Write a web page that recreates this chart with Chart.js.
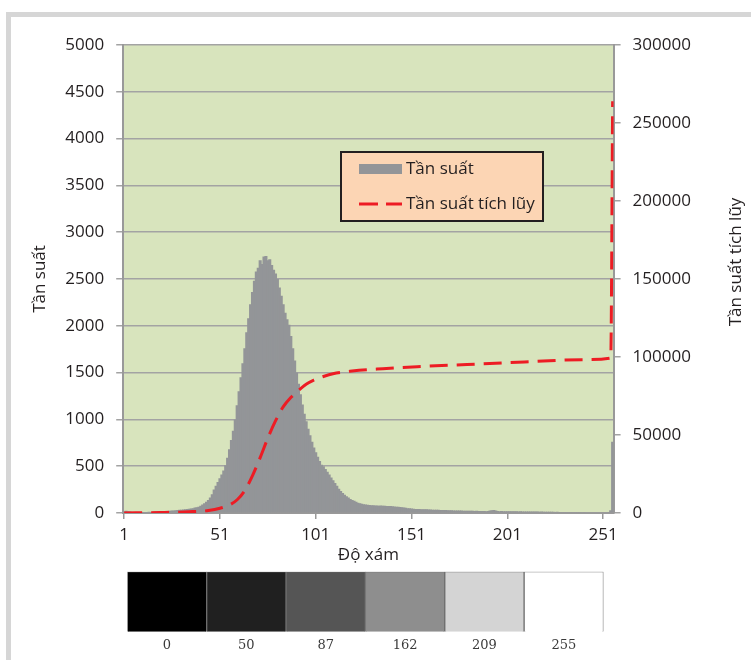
<!DOCTYPE html>
<html>
<head>
<meta charset="utf-8">
<script src="https://cdn.jsdelivr.net/npm/chart.js@4.4.1/dist/chart.umd.min.js"></script>
<style>
  html, body { margin: 0; padding: 0; background: #fff; }
  body { width: 751px; height: 660px; position: relative; overflow: hidden; }
  #frame { position: absolute; left: 6px; top: 12px; right: 0; bottom: 0; border-top: 5px solid #d6d6d6; border-left: 5px solid #d6d6d6; }
  #chartMain { position: absolute; left: 0; top: 0; }
  #chartStrip { position: absolute; left: 120px; top: 565px; }
</style>
</head>
<body>
<div id="frame"></div>
<canvas id="chartMain" width="751" height="570"></canvas>
<canvas id="chartStrip" width="500" height="95"></canvas>
<script>
// histogram: number of pixels for each gray level 1..256
const tanSuat = [
  20, 25, 18, 15, 12, 12, 10, 12, 10, 12,
  10, 12, 12, 14, 12, 14, 15, 16, 15, 18,
  18, 20, 20, 22, 24, 26, 28, 30, 32, 35,
  36, 38, 40, 42, 45, 48, 52, 58, 62, 68,
  78, 90, 105, 120, 140, 165, 200, 250, 290, 330,
  370, 410, 455, 510, 590, 680, 780, 880, 1000, 1150,
  1300, 1450, 1600, 1760, 1930, 2080, 2230, 2360, 2480, 2580,
  2620, 2700, 2660, 2740, 2745, 2700, 2710, 2650, 2600, 2560,
  2500, 2410, 2320, 2230, 2140, 2070, 2010, 1890, 1760, 1630,
  1500, 1380, 1270, 1160, 1060, 980, 900, 830, 760, 700,
  650, 600, 555, 515, 500, 470, 440, 410, 380, 350,
  320, 290, 260, 235, 215, 195, 180, 165, 150, 140,
  130, 120, 110, 104, 98, 94, 90, 88, 86, 84,
  82, 80, 81, 78, 80, 77, 78, 76, 75, 74,
  72, 70, 68, 66, 64, 62, 58, 55, 52, 50,
  48, 46, 44, 43, 42, 41, 40, 40, 39, 38,
  37, 36, 36, 35, 34, 33, 32, 32, 31, 30,
  30, 29, 28, 28, 27, 26, 26, 25, 25, 24,
  24, 23, 24, 22, 23, 22, 21, 22, 21, 20,
  22, 26, 30, 32, 28, 22, 20, 21, 20, 19,
  20, 19, 18, 19, 18, 18, 17, 18, 17, 16,
  17, 16, 16, 15, 16, 15, 15, 14, 15, 14,
  14, 13, 14, 13, 13, 12, 13, 12, 12, 12,
  11, 12, 11, 11, 10, 11, 10, 10, 10, 9,
  10, 9, 9, 9, 8, 9, 8, 8, 8, 7,
  8, 7, 8, 10, 30, 760
];
const firstLevel = 1;

// cumulative curve, [gray level, value]
const tanSuatTichLuy = [
  [1, 0], [20, 300], [35, 800], [45, 1600], [51, 3000], [56, 5200],
  [60, 8500], [64, 14500], [68, 24000], [72, 35500], [76, 48000],
  [80, 59000], [84, 68000], [88, 74000], [92, 78500], [96, 82500],
  [100, 85200], [105, 87500], [110, 89300], [120, 91000], [136, 92500],
  [154, 93800], [180, 95200], [210, 96800], [240, 98300], [255, 99300],
  [256, 264000]
];

const xTicks = [1, 51, 101, 151, 201, 251];

// gray strip under the chart
const mucXam = ['0', '50', '87', '162', '209', '255'];
const mauXam = ['#000000', '#202020', '#555555', '#8e8e8e', '#d4d4d4', '#ffffff'];
const chieuCaoO = [1, 1, 1, 1, 1, 1];

Chart.defaults.font.family = "'Open Sans', sans-serif";
Chart.defaults.font.size = 17;
Chart.defaults.color = '#231f20';

const gridColor = '#a3a3a3';
const axisColor = '#999999';

// green plot background
const nenXanh = {
  id: 'nenXanh',
  beforeDraw(chart) {
    const a = chart.chartArea;
    const ctx = chart.ctx;
    ctx.save();
    ctx.fillStyle = '#d8e4bd';
    ctx.fillRect(a.left, a.top, a.right - a.left, a.bottom - a.top);
    ctx.restore();
  }
};

// boxed legend inside the plot + right axis title read bottom to top
const chuGiai = {
  id: 'chuGiai',
  afterDraw(chart) {
    const ctx = chart.ctx;
    const x = 341, y = 152, w = 202, h = 69;
    ctx.save();
    ctx.fillStyle = '#fcd5b4';
    ctx.fillRect(x, y, w, h);
    ctx.strokeStyle = '#231f20';
    ctx.lineWidth = 2;
    ctx.strokeRect(x, y, w, h);

    const ds = chart.data.datasets;
    ctx.fillStyle = ds[0].backgroundColor;
    ctx.fillRect(x + 18, y + 12, 43, 10);

    ctx.strokeStyle = ds[1].borderColor;
    ctx.lineWidth = 3;
    ctx.setLineDash([19, 8]);
    ctx.beginPath();
    ctx.moveTo(x + 18, y + 52);
    ctx.lineTo(x + 61, y + 52);
    ctx.stroke();
    ctx.setLineDash([]);

    ctx.fillStyle = '#231f20';
    ctx.font = "17px 'Open Sans', sans-serif";
    ctx.textBaseline = 'middle';
    ctx.fillText(ds[0].label, x + 65, y + 17);
    ctx.fillText(ds[1].label, x + 65, y + 52);

    // title of the right axis
    ctx.translate(736, 262);
    ctx.rotate(-Math.PI / 2);
    ctx.textAlign = 'center';
    ctx.fillText('Tần suất tích lũy', 0, 0);
    ctx.restore();
  }
};

new Chart(document.getElementById('chartMain'), {
  type: 'bar',
  data: {
    datasets: [
      {
        type: 'bar',
        label: 'Tần suất',
        data: tanSuat.map((v, i) => ({ x: firstLevel + i, y: v })),
        backgroundColor: '#939598',
        borderWidth: 0,
        barPercentage: 1.6,   // slight overlap so no seams between the thin bars
        categoryPercentage: 1,
        yAxisID: 'y',
        order: 2
      },
      {
        type: 'line',
        label: 'Tần suất tích lũy',
        data: tanSuatTichLuy.map(p => ({ x: p[0], y: p[1] })),
        borderColor: '#ed1c24',
        borderWidth: 3,
        borderDash: [18, 9],
        pointRadius: 0,
        cubicInterpolationMode: 'monotone',
        fill: false,
        yAxisID: 'y1',
        order: 1
      }
    ]
  },
  options: {
    responsive: false,
    animation: false,
    layout: { padding: { top: 45, left: 0, right: 0, bottom: 0 } },
    plugins: {
      legend: { display: false },
      tooltip: { enabled: false }
    },
    scales: {
      x: {
        type: 'linear',
        min: 0.5,
        max: 256.5,
        offset: false,
        afterFit: (s) => { s.height = 57; },
        afterBuildTicks: (s) => { s.ticks = xTicks.map(v => ({ value: v })); },
        grid: { offset: false, drawOnChartArea: false, drawTicks: true, tickLength: 6, color: axisColor, lineWidth: 1.5 },
        border: { display: true, color: axisColor, width: 2 },
        ticks: { padding: 6, autoSkip: false, maxRotation: 0, callback: (v) => String(v) },
        title: { display: true, text: 'Độ xám', padding: { top: 0, bottom: 5 } }
      },
      y: {
        position: 'left',
        min: 0,
        max: 5000,
        afterFit: (s) => { s.width = 123.2; },
        ticks: { stepSize: 500, padding: 12, callback: (v) => String(v) },
        grid: { color: gridColor, lineWidth: 1.5, tickLength: 7 },
        border: { display: true, color: axisColor, width: 2 },
        title: { display: true, text: 'Tần suất', padding: { top: 30 } }
      },
      y1: {
        position: 'right',
        min: 0,
        max: 300000,
        afterFit: (s) => { s.width = 137.4; },
        ticks: { stepSize: 50000, padding: 12, callback: (v) => String(v) },
        grid: { drawOnChartArea: false, color: gridColor, lineWidth: 1.5, tickLength: 7 },
        border: { display: true, color: axisColor, width: 2 },
        title: { display: false }
      }
    }
  },
  plugins: [nenXanh, chuGiai]
});

new Chart(document.getElementById('chartStrip'), {
  type: 'bar',
  data: {
    labels: mucXam,
    datasets: [{
      data: chieuCaoO,
      backgroundColor: mauXam,
      borderColor: '#6f6f6f',
      borderWidth: 1,
      barPercentage: 1,
      categoryPercentage: 1
    }]
  },
  options: {
    responsive: false,
    animation: false,
    layout: { padding: { top: 6.7, left: 7.3, right: 16.5, bottom: 0 } },
    plugins: { legend: { display: false }, tooltip: { enabled: false } },
    scales: {
      x: {
        afterFit: (s) => { s.height = 28.3; },
        grid: { display: false, drawTicks: false },
        border: { display: false },
        ticks: { padding: 6, color: '#3a3a3a', font: { family: "'DejaVu Serif', serif", size: 13 } }
      },
      y: { display: false, min: 0, max: 1 }
    }
  }
});
</script>
</body>
</html>
